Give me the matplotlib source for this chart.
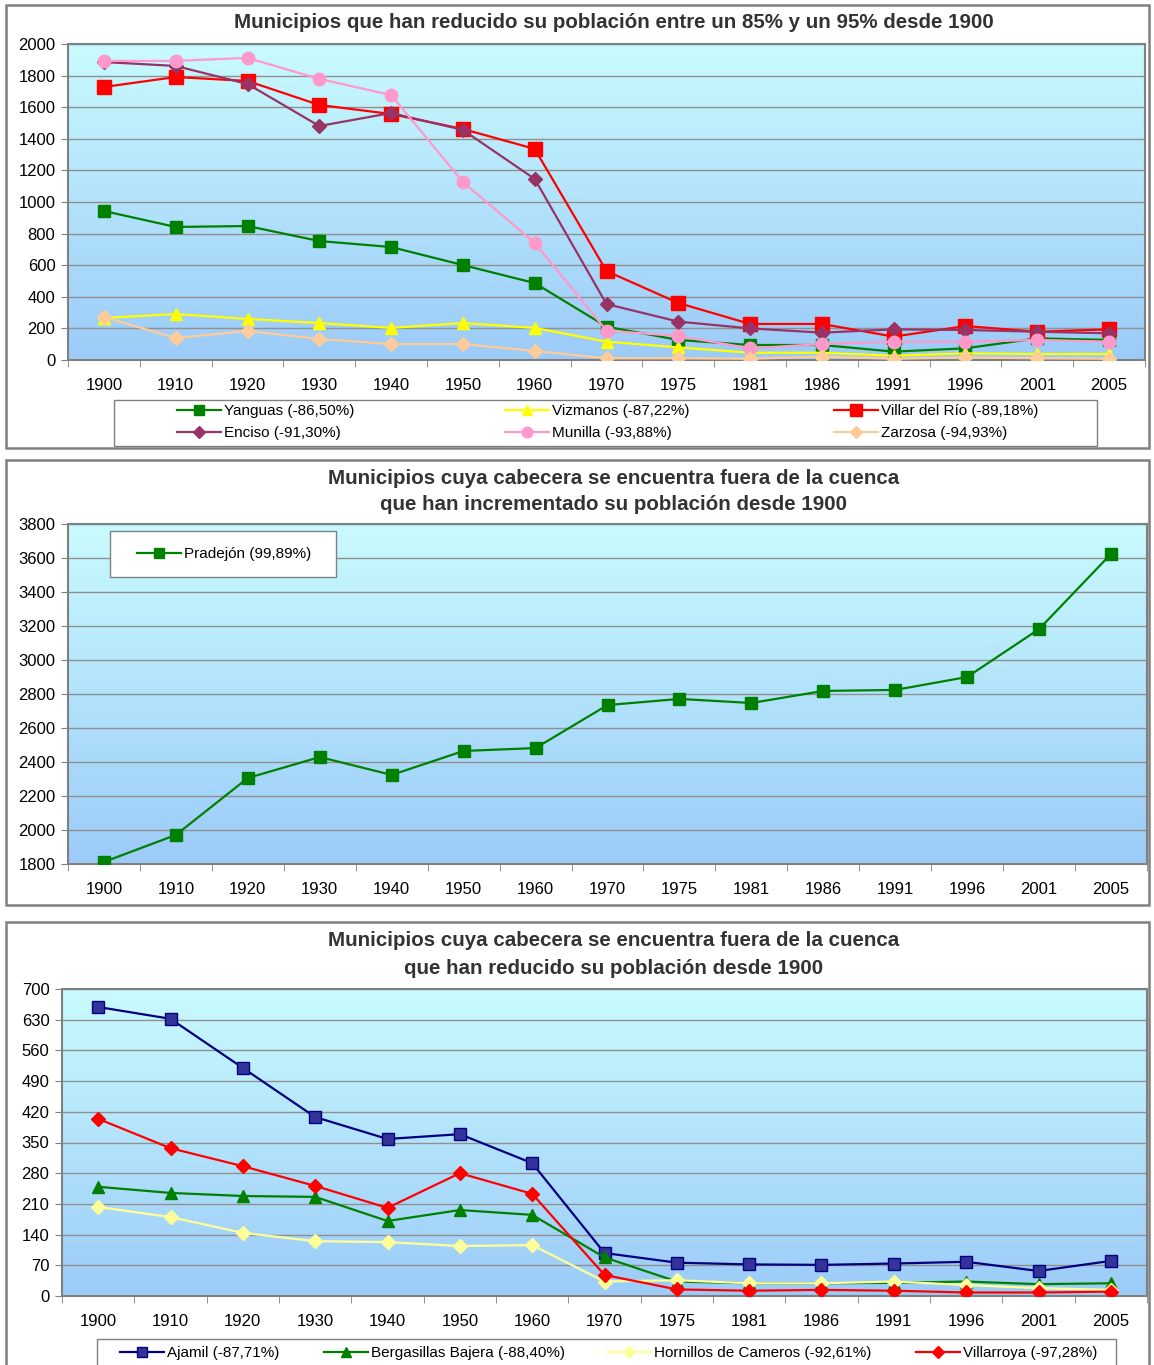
import numpy as np
import matplotlib
matplotlib.use('Agg')
import matplotlib.pyplot as plt
from matplotlib.patches import Rectangle
from matplotlib.colors import LinearSegmentedColormap

plt.rcParams['font.family'] = ['Liberation Sans', 'DejaVu Sans']

years = ['1900', '1910', '1920', '1930', '1940', '1950', '1960', '1970',
         '1975', '1981', '1986', '1991', '1996', '2001', '2005']

# chart 1: reduced between 85% and 95%
yanguas = [943, 842, 848, 753, 715, 601, 487, 211, 127, 95, 95, 53, 74, 137, 127]
vizmanos = [266, 291, 260, 234, 203, 234, 203, 116, 80, 46, 46, 27, 42, 38, 38]
villar = [1728, 1791, 1766, 1614, 1557, 1462, 1336, 563, 361, 228, 228, 148, 215, 179, 194]
enciso = [1886, 1861, 1747, 1481, 1563, 1456, 1146, 354, 243, 200, 173, 194, 190, 179, 169]
munilla = [1893, 1893, 1912, 1779, 1677, 1127, 741, 186, 152, 74, 101, 116, 116, 127, 116]
zarzosa = [272, 139, 184, 133, 101, 101, 57, 11, 11, 8, 21, 8, 16, 11, 8]

# chart 2: increased
pradejon = [1812, 1971, 2306, 2429, 2324, 2465, 2482, 2735, 2771, 2747, 2818, 2824, 2900, 3182, 3624]

# chart 3: reduced, head outside the basin
ajamil = [659, 632, 520, 408, 358, 369, 303, 98, 76, 72, 71, 74, 78, 57, 80]
bergasillas = [249, 235, 228, 226, 171, 196, 185, 88, 33, 29, 29, 30, 33, 27, 29]
hornillos = [203, 180, 144, 125, 123, 114, 116, 33, 36, 29, 29, 33, 25, 18, 14]
villarroya = [404, 337, 296, 251, 201, 280, 233, 48, 15, 12, 14, 12, 8, 8, 10]

W, H = 1154, 1365
fig = plt.figure(figsize=(W / 100, H / 100), dpi=100)

bg = LinearSegmentedColormap.from_list('bg', ['#9ccbf8', '#c9fbfe'])


def px_axes(x0, y0, x1, y1):
    # pixel box (top-left origin) -> figure axes
    return fig.add_axes([x0 / W, 1 - y1 / H, (x1 - x0) / W, (y1 - y0) / H])


def px_rect(x0, y0, x1, y1, color, lw):
    fig.patches.append(Rectangle((x0 / W, 1 - y1 / H), (x1 - x0) / W, (y1 - y0) / H,
                                 transform=fig.transFigure, fill=False,
                                 edgecolor=color, linewidth=lw, zorder=5))


def panel(y0, y1):
    px_rect(6, y0, 1149, y1, '#808080', 1.8)


def legend_box(x0, y0, x1, y1):
    fig.patches.append(Rectangle((x0 / W, 1 - y1 / H), (x1 - x0) / W, (y1 - y0) / H,
                                 transform=fig.transFigure, facecolor='white',
                                 edgecolor='#808080', linewidth=1, zorder=5))


def entry(h, xp, yp):
    lg = fig.legend([h], [h.get_label()], loc='center left',
                    bbox_to_anchor=(xp / W, 1 - yp / H), frameon=False,
                    fontsize=11, handlelength=2.9, handletextpad=0.2,
                    borderpad=0, borderaxespad=0, markerscale=0.85)
    lg.set_zorder(6)


def title(lines, y0):
    for i, t in enumerate(lines):
        fig.text(614 / W, 1 - (y0 + 27 * i) / H, t, ha='center', va='center',
                 fontsize=14.8, fontweight='bold', color='#333333')


def setup(ax, ymin, ymax, step):
    grad = np.linspace(0, 1, 256).reshape(-1, 1)
    ax.imshow(grad, extent=[0, 1, 0, 1], transform=ax.transAxes, aspect='auto',
              cmap=bg, origin='lower', zorder=0)
    ax.set_xlim(-0.5, len(years) - 0.5)
    ax.set_ylim(ymin, ymax)
    ax.set_yticks(np.arange(ymin, ymax + 1, step))
    ax.set_xticks(range(len(years)))
    ax.set_xticklabels(years)
    ax.set_xticks(np.arange(-0.5, len(years), 1), minor=True)
    ax.tick_params(axis='x', which='major', length=0, pad=13, labelsize=12)
    ax.tick_params(axis='x', which='minor', length=5, color='#808080')
    ax.tick_params(axis='y', length=5, color='#808080', labelsize=12, pad=4)
    ax.yaxis.grid(True, color='#909090', linewidth=1)
    for s in ax.spines.values():
        s.set_color('#808080')
        s.set_linewidth(1.5)
    for g in ax.get_ygridlines():
        g.set_zorder(1)


x = np.arange(len(years))
lw = 1.6

# ---------- chart 1 ----------
panel(5, 448)
ax1 = px_axes(68, 44, 1145, 360)
setup(ax1, 0, 2000, 200)
h_yan, = ax1.plot(x, yanguas, color='#008000', marker='s', ms=9, lw=lw, label='Yanguas (-86,50%)', zorder=3)
h_viz, = ax1.plot(x, vizmanos, color='#ffff00', marker='^', ms=9, lw=lw, label='Vizmanos (-87,22%)', zorder=3)
h_vil, = ax1.plot(x, villar, color='#ff0000', marker='s', ms=10, lw=lw, label='Villar del Río (-89,18%)', zorder=3)
h_enc, = ax1.plot(x, enciso, color='#993366', marker='D', ms=7, lw=lw, label='Enciso (-91,30%)', zorder=3)
h_mun, = ax1.plot(x, munilla, color='#ff99cc', marker='o', ms=9, lw=lw, label='Munilla (-93,88%)', zorder=3)
h_zar, = ax1.plot(x, zarzosa, color='#ffcc99', marker='D', ms=7, lw=lw, label='Zarzosa (-94,93%)', zorder=3)
title(['Municipios que han reducido su población entre un 85% y un 95% desde 1900'], 23)
legend_box(114, 400, 1097, 446)
entry(h_yan, 177, 411)
entry(h_viz, 505, 411)
entry(h_vil, 834, 411)
entry(h_enc, 177, 433)
entry(h_mun, 505, 433)
entry(h_zar, 834, 433)

# ---------- chart 2 ----------
panel(460, 905)
ax2 = px_axes(68, 524, 1147, 864)
setup(ax2, 1800, 3800, 200)
h_pra, = ax2.plot(x, pradejon, color='#008000', marker='s', ms=9, lw=lw, label='Pradejón (99,89%)', zorder=3)
title(['Municipios cuya cabecera se encuentra fuera de la cuenca',
       'que han incrementado su población desde 1900'], 478)
legend_box(110, 531, 336, 577)
entry(h_pra, 137, 554)

# ---------- chart 3 ----------
panel(922, 1372)
ax3 = px_axes(62, 989, 1147, 1296)
setup(ax3, 0, 700, 70)
h_aja, = ax3.plot(x, ajamil, color='#000080', marker='s', ms=9, mfc='#333399', mec='#000080',
                  lw=lw, label='Ajamil (-87,71%)', zorder=3)
h_ber, = ax3.plot(x, bergasillas, color='#008000', marker='^', ms=9, lw=lw,
                  label='Bergasillas Bajera (-88,40%)', zorder=3)
h_hor, = ax3.plot(x, hornillos, color='#ffff99', marker='D', ms=7, lw=lw,
                  label='Hornillos de Cameros (-92,61%)', zorder=3)
h_vrr, = ax3.plot(x, villarroya, color='#ff0000', marker='D', ms=7, lw=lw,
                  label='Villarroya (-97,28%)', zorder=3)
title(['Municipios cuya cabecera se encuentra fuera de la cuenca',
       'que han reducido su población desde 1900'], 941)
legend_box(97, 1339, 1116, 1375)
entry(h_aja, 120, 1353)
entry(h_ber, 324, 1353)
entry(h_hor, 607, 1353)
entry(h_vrr, 916, 1353)

fig.savefig('out.png', dpi=100)
